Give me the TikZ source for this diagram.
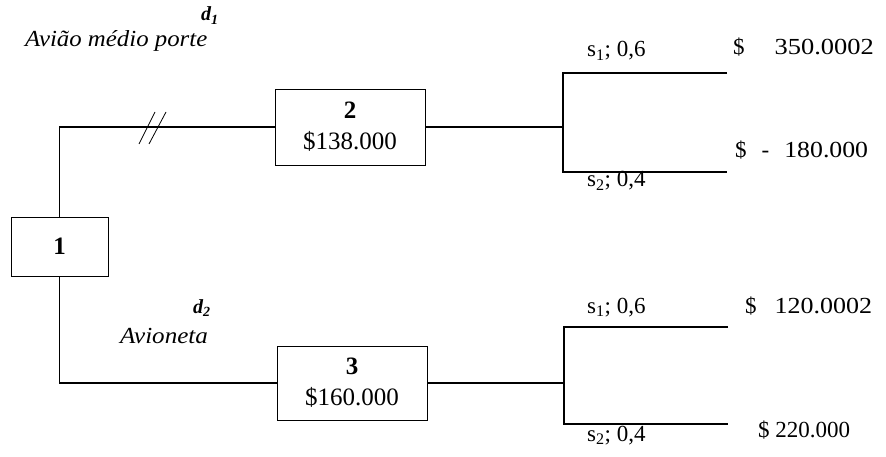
\documentclass[tikz,border=0pt]{standalone}
\usepackage{fontspec}
\usepackage{graphicx}
\setmainfont{Liberation Serif}
% horizontally widened text
\newcommand{\hstr}[2]{\scalebox{#1}[1]{#2}}
\begin{document}
\begin{tikzpicture}[x=1pt,y=-1pt,
  wire/.style={line width=1.1pt},
  cutmark/.style={line width=0.8pt},
  stage/.style={draw, line width=0.9pt, inner sep=0pt, align=center,
    font=\fontsize{25}{31}\selectfont},
  lbl/.style={inner sep=0pt, anchor=base west, font=\fontsize{23}{25}\selectfont},
  dec/.style={inner sep=0pt, anchor=base west, font=\fontsize{23}{25}\selectfont\itshape},
  decname/.style={inner sep=0pt, anchor=base west, font=\fontsize{20}{22}\selectfont\bfseries\itshape},
]
\useasboundingbox (0,0) rectangle (886,457);

% decision and chance nodes
\node[stage, minimum width=97pt, minimum height=59pt] (n1) at (59.5,246.5) {\textbf{1}};
\node[stage, minimum width=150pt, minimum height=76pt] (n2) at (350,127) {\textbf{2}\\\$138.000};
\node[stage, minimum width=150pt, minimum height=74pt] (n3) at (352,383) {\textbf{3}\\\$160.000};

% branch points and outcome ends
\coordinate (j1b) at (563,172);
\coordinate (e1t) at (727,73);
\coordinate (e1b) at (727,172);
\coordinate (j2b) at (564,424);
\coordinate (e2t) at (728,327);
\coordinate (e2b) at (728,424);

% decision branches
\draw[wire] (n1.north) |- (n2.west);
\draw[wire] (n1.south) |- (n3.west);

% chance branches
\draw[wire] (n2.east) -- (n2.east -| j1b);
\draw[wire] (e1t) -| (j1b) -- (e1b);
\draw[wire] (n3.east) -- (n3.east -| j2b);
\draw[wire] (e2t) -| (j2b) -- (e2b);

% rejected alternative
\coordinate (cut) at (153,127);
\draw[cutmark] ([shift={(-14,17)}]cut) -- ([shift={(2,-15)}]cut);
\draw[cutmark] ([shift={(-4,17)}]cut) -- ([shift={(13,-15)}]cut);

% decision labels
\node[decname] (d1) at (201,21) {d\textsubscript{1}};
\node[dec] (a1) at (25,47) {\hstr{1.08}{Avião médio porte}};
\node[decname] (d2) at (193,313) {d\textsubscript{2}};
\node[dec] (a2) at (120,343) {\hstr{1.09}{Avioneta}};

% states of nature
\node[lbl] (p11) at (587,57) {s\textsubscript{1}; 0,6};
\node[lbl] (p12) at (587,187) {s\textsubscript{2}; 0,4};
\node[lbl] (p21) at (587,313) {s\textsubscript{1}; 0,6};
\node[lbl] (p22) at (587,441) {s\textsubscript{2}; 0,4};

% payoffs
\node[lbl] (v11) at (733,55) {\$\hspace{30pt}\hstr{1.15}{350.0002}};
\node[lbl] (v12) at (735,158) {\$\hspace{15pt}-\hspace{15pt}\hstr{1.12}{180.000}};
\node[lbl] (v21) at (745,313) {\$\hspace{18pt}\hstr{1.13}{120.0002}};
\node[lbl] (v22) at (758,437) {\$ 220.000};
\end{tikzpicture}
\end{document}
